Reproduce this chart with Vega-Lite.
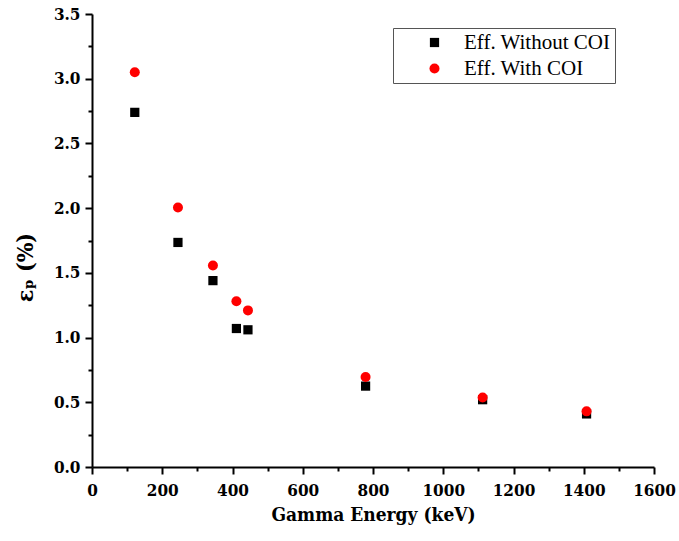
{
  "$schema": "https://vega.github.io/schema/vega-lite/v6.json",
  "width": 562,
  "height": 453,
  "autosize": {"type": "none"},
  "padding": {"left": 92, "top": 14, "right": 25, "bottom": 74},
  "background": "white",
  "config": {
    "view": {"stroke": null},
    "font": "Liberation Serif",
    "axis": {
      "grid": false,
      "domainColor": "black",
      "domainWidth": 2,
      "tickColor": "black",
      "tickWidth": 2,
      "labelColor": "black",
      "titleColor": "black"
    }
  },
  "data": {
    "values": [
      {"energy": 121.8, "eff": 2.74, "series": "Eff. Without COI"},
      {"energy": 244.7, "eff": 1.735, "series": "Eff. Without COI"},
      {"energy": 344.3, "eff": 1.44, "series": "Eff. Without COI"},
      {"energy": 411.1, "eff": 1.07, "series": "Eff. Without COI"},
      {"energy": 444.0, "eff": 1.06, "series": "Eff. Without COI"},
      {"energy": 778.9, "eff": 0.625, "series": "Eff. Without COI"},
      {"energy": 1112.1, "eff": 0.52, "series": "Eff. Without COI"},
      {"energy": 1408.0, "eff": 0.41, "series": "Eff. Without COI"},
      {"energy": 121.8, "eff": 3.05, "series": "Eff. With COI"},
      {"energy": 244.7, "eff": 2.005, "series": "Eff. With COI"},
      {"energy": 344.3, "eff": 1.557, "series": "Eff. With COI"},
      {"energy": 411.1, "eff": 1.28, "series": "Eff. With COI"},
      {"energy": 444.0, "eff": 1.21, "series": "Eff. With COI"},
      {"energy": 778.9, "eff": 0.695, "series": "Eff. With COI"},
      {"energy": 1112.1, "eff": 0.537, "series": "Eff. With COI"},
      {"energy": 1408.0, "eff": 0.43, "series": "Eff. With COI"}
    ]
  },
  "mark": {"type": "point", "filled": true, "opacity": 1},
  "encoding": {
    "x": {
      "field": "energy",
      "type": "quantitative",
      "scale": {"domain": [0, 1600], "nice": false, "zero": false},
      "axis": {
        "title": "Gamma Energy (keV)",
        "titleFont": "DejaVu Serif Condensed",
        "titleFontWeight": "bold",
        "titleFontSize": 19,
        "titlePadding": 7,
        "labelFont": "DejaVu Serif Condensed",
        "labelFontWeight": "bold",
        "labelFontSize": 17,
        "values": [0, 100, 200, 300, 400, 500, 600, 700, 800, 900, 1000, 1100, 1200, 1300, 1400, 1500, 1600],
        "format": "d",
        "labelExpr": "datum.value % 200 === 0 ? datum.label : ''",
        "tickSize": {"condition": {"test": "datum.value % 200 === 0", "value": 7}, "value": 4},
        "labelPadding": 8,
        "labelFlush": false,
        "labelOverlap": false
      }
    },
    "y": {
      "field": "eff",
      "type": "quantitative",
      "scale": {"domain": [0, 3.5], "nice": false, "zero": false},
      "axis": {
        "title": "εₚ (%)",
        "titleFont": "DejaVu Serif Condensed",
        "titleFontWeight": "bold",
        "titleFontSize": 23,
        "titleX": -67,
        "titleY": 253,
        "titleAlign": "center",
        "titleBaseline": "middle",
        "titleAngle": -90,
        "labelFont": "DejaVu Serif Condensed",
        "labelFontWeight": "bold",
        "labelFontSize": 17,
        "values": [0, 0.25, 0.5, 0.75, 1, 1.25, 1.5, 1.75, 2, 2.25, 2.5, 2.75, 3, 3.25, 3.5],
        "format": ".1f",
        "labelExpr": "round(datum.value * 4) % 2 === 0 ? datum.label : ''",
        "tickSize": {"condition": {"test": "round(datum.value * 4) % 2 === 0", "value": 7}, "value": 4},
        "labelPadding": 5,
        "labelFlush": false,
        "labelOverlap": false
      }
    },
    "color": {
      "field": "series",
      "type": "nominal",
      "scale": {"domain": ["Eff. Without COI", "Eff. With COI"], "range": ["black", "#ff0000"]},
      "legend": {
        "title": null,
        "orient": "none",
        "legendX": 301,
        "legendY": 14,
        "padding": 4,
        "strokeColor": "#555555",
        "fillColor": "white",
        "symbolOffset": 27,
        "labelOffset": 19,
        "labelFont": "Liberation Serif",
        "labelFontSize": 21,
        "labelColor": "black",
        "symbolSize": 70,
        "rowPadding": 4,
        "symbolStrokeWidth": 0
      }
    },
    "shape": {
      "field": "series",
      "type": "nominal",
      "scale": {"domain": ["Eff. Without COI", "Eff. With COI"], "range": ["square", "circle"]}
    },
    "size": {
      "field": "series",
      "type": "nominal",
      "scale": {"domain": ["Eff. Without COI", "Eff. With COI"], "range": [85, 100]},
      "legend": null
    }
  }
}
